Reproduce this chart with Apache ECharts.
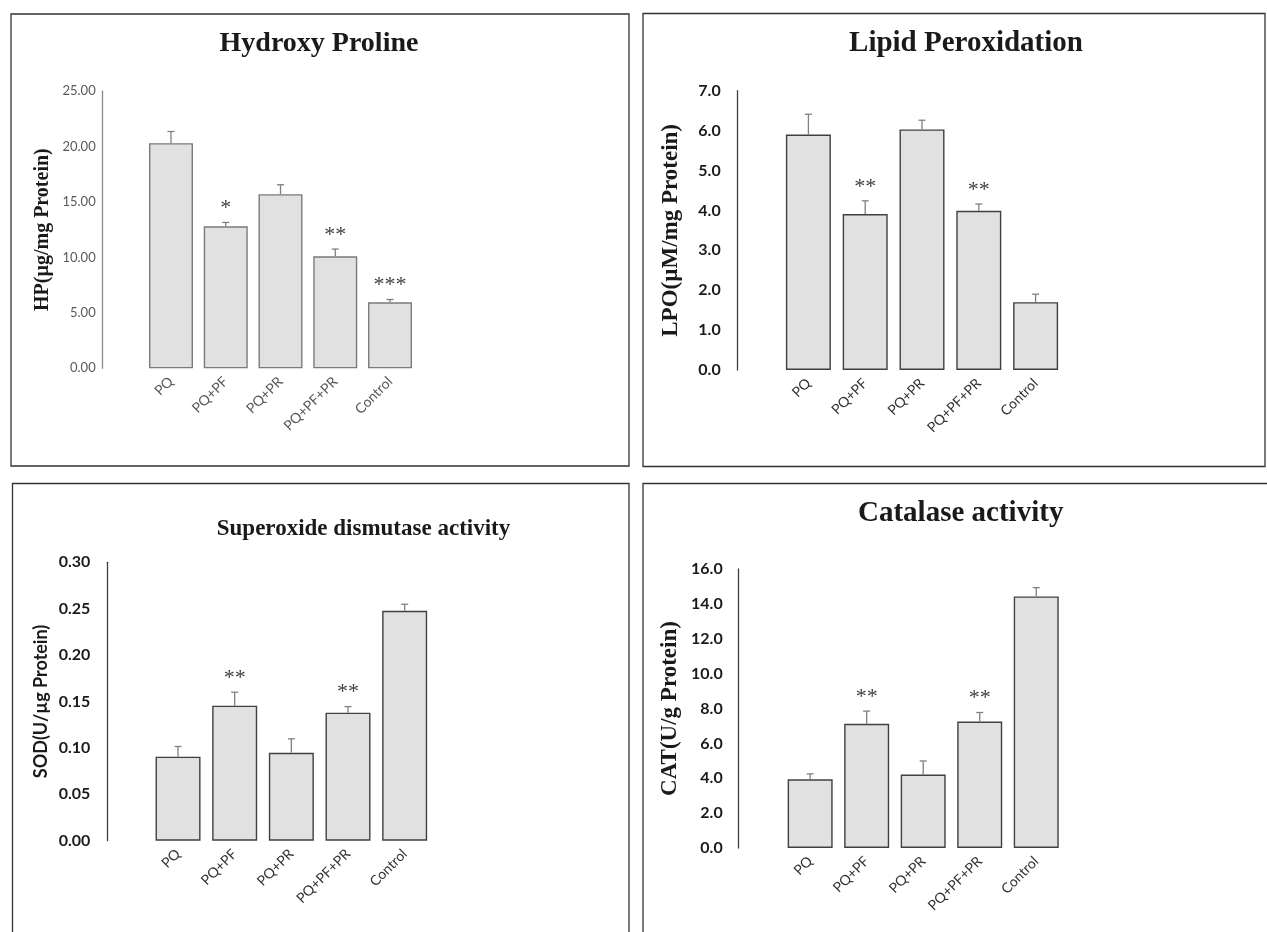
<!DOCTYPE html>
<html>
<head>
<meta charset="utf-8">
<title>PQ treatment markers</title>
<script src="https://cdn.jsdelivr.net/npm/echarts@6/dist/echarts.min.js"></script>
<style>
  html, body { margin: 0; padding: 0; background: #fff; }
  #main { width: 1267px; height: 932px; }
</style>
</head>
<body>
<div id="main"></div>
<script>
const categories = ['PQ', 'PQ+PF', 'PQ+PR', 'PQ+PF+PR', 'Control'];

// Hydroxy proline
const hpValues = [20.3, 12.8, 15.7, 10.1, 5.95];
const hpErrors = [1.05, 0.35, 0.85, 0.65, 0.25];
const hpStars = ['', '*', '', '**', '***'];
const hpTicks = ['0.00', '5.00', '10.00', '15.00', '20.00', '25.00'];

// Lipid peroxidation
const lpoValues = [5.9, 3.91, 6.03, 3.99, 1.7];
const lpoErrors = [0.51, 0.33, 0.23, 0.17, 0.2];
const lpoStars = ['', '**', '', '**', ''];
const lpoTicks = ['0.0', '1.0', '2.0', '3.0', '4.0', '5.0', '6.0', '7.0'];

// Superoxide dismutase
const sodValues = [0.0905, 0.1455, 0.0948, 0.138, 0.2478];
const sodErrors = [0.011, 0.0145, 0.015, 0.0065, 0.007];
const sodStars = ['', '**', '', '**', ''];
const sodTicks = ['0.00', '0.05', '0.10', '0.15', '0.20', '0.25', '0.30'];

// Catalase
const catValues = [3.94, 7.12, 4.21, 7.25, 14.43];
const catErrors = [0.31, 0.73, 0.78, 0.52, 0.5];
const catStars = ['', '**', '', '**', ''];
const catTicks = ['0.0', '2.0', '4.0', '6.0', '8.0', '10.0', '12.0', '14.0', '16.0'];

const SERIF = '"Liberation Serif", "Times New Roman", serif';
const SANS = 'Lato, "Open Sans", sans-serif';

const panels = [
  {
    title: 'Hydroxy Proline', titleX: 319, titleY: 30, titleSize: 28,
    yName: 'HP(µg/mg Protein)', yNameFont: SERIF, yNameSize: 20, nameGap: 50,
    grid: { left: 143.6, top: 91, width: 273.8, height: 277.3 }, offset: 40.9,
    values: hpValues, errors: hpErrors, stars: hpStars, ticks: hpTicks,
    tickBold: false, tickColor: '#595959', tickSize: 13, tickMargin: 7,
    catColor: '#595959',
    axisColor: '#8a8a8a', barBorder: '#7a7a7a', barWidth: 44,
  },
  {
    title: 'Lipid Peroxidation', titleX: 966, titleY: 29.5, titleSize: 29,
    yName: 'LPO(µM/mg Protein)', yNameFont: SERIF, yNameSize: 23, nameGap: 55,
    grid: { left: 780, top: 90.7, width: 284, height: 279.3 }, offset: 42.3,
    values: lpoValues, errors: lpoErrors, stars: lpoStars, ticks: lpoTicks,
    tickBold: true, tickColor: '#1a1a1a', tickSize: 16, tickMargin: 17,
    catColor: '#333333',
    axisColor: '#404040', barBorder: '#404040', barWidth: 45,
  },
  {
    title: 'Superoxide dismutase activity', titleX: 363.5, titleY: 517.5, titleSize: 23,
    yName: 'SOD(U/µg Protein)', yNameFont: SANS, yNameSize: 18, nameGap: 57,
    grid: { left: 149.7, top: 562.3, width: 283.3, height: 278.4 }, offset: 42.4,
    values: sodValues, errors: sodErrors, stars: sodStars, ticks: sodTicks,
    tickBold: true, tickColor: '#1a1a1a', tickSize: 16, tickMargin: 17,
    catColor: '#333333',
    axisColor: '#404040', barBorder: '#404040', barWidth: 45,
  },
  {
    title: 'Catalase activity', titleX: 960.7, titleY: 499.5, titleSize: 29,
    yName: 'CAT(U/g Protein)', yNameFont: SERIF, yNameSize: 23, nameGap: 56.7,
    grid: { left: 781.9, top: 569, width: 282.6, height: 279 }, offset: 43.2,
    values: catValues, errors: catErrors, stars: catStars, ticks: catTicks,
    tickBold: true, tickColor: '#1a1a1a', tickSize: 16, tickMargin: 16,
    catColor: '#333333',
    axisColor: '#404040', barBorder: '#404040', barWidth: 45,
  },
];

// error bar + significance stars, drawn from the axis scales
function errorBarRenderer(stars) {
  return function (params, api) {
    const i = params.dataIndex;
    const base = api.coord([api.value(0), api.value(1)]);
    const tip = api.coord([api.value(0), api.value(1) + api.value(2)]);
    const lineStyle = { stroke: '#808080', lineWidth: 1.3 };
    const children = [
      { type: 'line', shape: { x1: base[0], y1: base[1], x2: tip[0], y2: tip[1] }, style: lineStyle },
      { type: 'line', shape: { x1: tip[0] - 3.5, y1: tip[1], x2: tip[0] + 3.5, y2: tip[1] }, style: lineStyle },
    ];
    if (stars[i]) {
      children.push({
        type: 'text',
        x: tip[0],
        y: tip[1] - 3,
        style: {
          text: stars[i],
          align: 'center',
          verticalAlign: 'bottom',
          fontFamily: SERIF,
          fontSize: 22,
          fill: '#404040',
        },
      });
    }
    return { type: 'group', children };
  };
}

const option = {
  animation: false,
  backgroundColor: '#fff',
  title: [],
  grid: [],
  xAxis: [],
  yAxis: [],
  series: [],
  graphic: [
    // panel frames
    { type: 'rect', shape: { x: 11, y: 14, width: 618, height: 452 }, style: { fill: 'none', stroke: '#333', lineWidth: 1.3 } },
    { type: 'rect', shape: { x: 643, y: 13.5, width: 622, height: 453 }, style: { fill: 'none', stroke: '#333', lineWidth: 1.3 } },
    { type: 'rect', shape: { x: 12.5, y: 483.5, width: 616.5, height: 470 }, style: { fill: 'none', stroke: '#333', lineWidth: 1.3 } },
    { type: 'rect', shape: { x: 643, y: 483.5, width: 640, height: 470 }, style: { fill: 'none', stroke: '#333', lineWidth: 1.3 } },
  ],
};

panels.forEach((p, idx) => {
  const max = parseFloat(p.ticks[p.ticks.length - 1]);
  const interval = parseFloat(p.ticks[1]);

  option.title.push({
    text: p.title,
    left: p.titleX,
    top: p.titleY,
    textAlign: 'center',
    padding: 0,
    textStyle: { fontFamily: SERIF, fontWeight: 'bold', fontSize: p.titleSize, color: '#1a1a1a' },
  });

  option.grid.push({ ...p.grid, containLabel: false, outerBoundsMode: 'none' });

  option.xAxis.push({
    type: 'category',
    gridIndex: idx,
    data: categories,
    axisLine: { show: false },
    axisTick: { show: false },
    axisLabel: {
      interval: 0,
      rotate: 45,
      margin: 11,
      color: p.catColor,
      fontFamily: SANS,
      fontSize: 14,
    },
  });

  option.yAxis.push({
    type: 'value',
    gridIndex: idx,
    min: 0,
    max,
    interval,
    offset: p.offset,
    name: p.yName,
    nameLocation: 'middle',
    nameGap: p.nameGap,
    nameTextStyle: { fontFamily: p.yNameFont, fontWeight: 'bold', fontSize: p.yNameSize, color: '#1a1a1a' },
    axisLine: { show: true, lineStyle: { color: p.axisColor, width: 1.3 } },
    axisTick: { show: false },
    splitLine: { show: false },
    axisLabel: {
      margin: p.tickMargin,
      color: p.tickColor,
      fontFamily: SANS,
      fontSize: p.tickSize,
      fontWeight: p.tickBold ? 'bold' : 'normal',
      formatter: (value, i) => p.ticks[i],
    },
  });

  option.series.push({
    type: 'bar',
    xAxisIndex: idx,
    yAxisIndex: idx,
    barWidth: p.barWidth,
    data: p.values,
    itemStyle: { color: '#e1e1e1', borderColor: p.barBorder, borderWidth: 1.4 },
    emphasis: { disabled: true },
  });

  option.series.push({
    type: 'custom',
    xAxisIndex: idx,
    yAxisIndex: idx,
    z: 5,
    renderItem: errorBarRenderer(p.stars),
    data: p.values.map((v, i) => [i, v, p.errors[i]]),
  });
});

const myChart = echarts.init(document.getElementById('main'), null, { renderer: 'canvas' });
myChart.setOption(option);
</script>
</body>
</html>
